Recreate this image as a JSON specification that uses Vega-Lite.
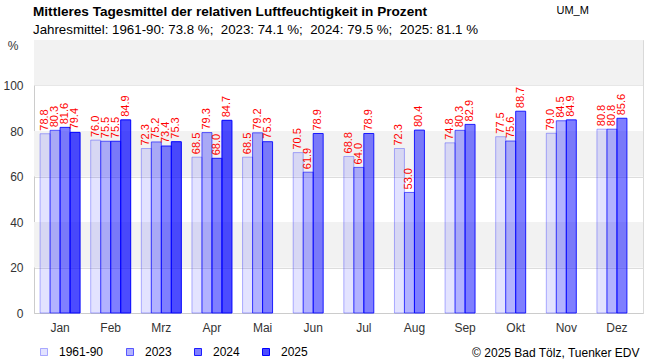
{
  "$schema": "https://vega.github.io/schema/vega-lite/v6.json",
  "width": 609,
  "height": 273,
  "autosize": {"type": "none"},
  "padding": {"left": 34, "top": 40, "right": 7, "bottom": 47},
  "background": "white",
  "title": {
    "text": "Mittleres Tagesmittel der relativen Luftfeuchtigkeit in Prozent",
    "subtitle": "Jahresmittel: 1961-90: 73.8 %;\u00a0 2023: 74.1 %;\u00a0 2024: 79.5 %;\u00a0 2025: 81.1 %",
    "anchor": "start",
    "frame": "group",
    "offset": -32,
    "dx": -1,
    "font": "Liberation Sans",
    "fontSize": 13.6,
    "fontWeight": "bold",
    "color": "#000000",
    "subtitleFont": "Liberation Sans",
    "subtitleFontSize": 13.3,
    "subtitleColor": "#000000",
    "subtitlePadding": 4
  },
  "config": {
    "view": {"stroke": "#d9d9d9"},
    "font": "Liberation Sans"
  },
  "datasets": {
    "bands": [
      {"lo": 20, "hi": 40},
      {"lo": 60, "hi": 80},
      {"lo": 100, "hi": 120}
    ],
    "hum": [
      {"month": "Jan", "series": "1961-90", "value": 78.8},
      {"month": "Jan", "series": "2023", "value": 80.3},
      {"month": "Jan", "series": "2024", "value": 81.6},
      {"month": "Jan", "series": "2025", "value": 79.4},
      {"month": "Feb", "series": "1961-90", "value": 76.0},
      {"month": "Feb", "series": "2023", "value": 75.5},
      {"month": "Feb", "series": "2024", "value": 75.5},
      {"month": "Feb", "series": "2025", "value": 84.9},
      {"month": "Mrz", "series": "1961-90", "value": 72.3},
      {"month": "Mrz", "series": "2023", "value": 75.2},
      {"month": "Mrz", "series": "2024", "value": 73.4},
      {"month": "Mrz", "series": "2025", "value": 75.3},
      {"month": "Apr", "series": "1961-90", "value": 68.5},
      {"month": "Apr", "series": "2023", "value": 79.3},
      {"month": "Apr", "series": "2024", "value": 68.0},
      {"month": "Apr", "series": "2025", "value": 84.7},
      {"month": "Mai", "series": "1961-90", "value": 68.5},
      {"month": "Mai", "series": "2023", "value": 79.2},
      {"month": "Mai", "series": "2024", "value": 75.3},
      {"month": "Jun", "series": "1961-90", "value": 70.5},
      {"month": "Jun", "series": "2023", "value": 61.9},
      {"month": "Jun", "series": "2024", "value": 78.9},
      {"month": "Jul", "series": "1961-90", "value": 68.8},
      {"month": "Jul", "series": "2023", "value": 64.0},
      {"month": "Jul", "series": "2024", "value": 78.9},
      {"month": "Aug", "series": "1961-90", "value": 72.3},
      {"month": "Aug", "series": "2023", "value": 53.0},
      {"month": "Aug", "series": "2024", "value": 80.4},
      {"month": "Sep", "series": "1961-90", "value": 74.8},
      {"month": "Sep", "series": "2023", "value": 80.3},
      {"month": "Sep", "series": "2024", "value": 82.9},
      {"month": "Okt", "series": "1961-90", "value": 77.5},
      {"month": "Okt", "series": "2023", "value": 75.6},
      {"month": "Okt", "series": "2024", "value": 88.7},
      {"month": "Nov", "series": "1961-90", "value": 79.0},
      {"month": "Nov", "series": "2023", "value": 84.5},
      {"month": "Nov", "series": "2024", "value": 84.9},
      {"month": "Dez", "series": "1961-90", "value": 80.8},
      {"month": "Dez", "series": "2023", "value": 80.8},
      {"month": "Dez", "series": "2024", "value": 85.6}
    ]
  },
  "layer": [
    {
      "data": {"name": "bands"},
      "mark": {"type": "rect", "color": "#f2f2f2"},
      "encoding": {
        "y": {"field": "lo", "type": "quantitative", "scale": {"domain": [0, 120]}},
        "y2": {"field": "hi"}
      }
    },
    {
      "data": {"name": "hum"},
      "mark": {"type": "bar", "strokeWidth": 1},
      "encoding": {
        "x": {
          "field": "month",
          "type": "nominal",
          "sort": ["Jan", "Feb", "Mrz", "Apr", "Mai", "Jun", "Jul", "Aug", "Sep", "Okt", "Nov", "Dez"],
          "scale": {"paddingInner": 0.21, "paddingOuter": 0.12},
          "axis": {
            "title": "© 2025 Bad Tölz, Tuenker EDV",
            "titleX": 605,
            "titleY": 39,
            "titleAlign": "right",
            "titleAnchor": null,
            "titleBaseline": "middle",
            "titleFont": "Liberation Sans",
            "titleFontSize": 12,
            "titleFontWeight": "normal",
            "titleColor": "#000000",
            "labelAngle": 0,
            "labelFontSize": 12,
            "labelColor": "#333333",
            "labelPadding": 9,
            "ticks": false,
            "domainColor": "#cccccc",
            "grid": false
          }
        },
        "xOffset": {
          "field": "series",
          "type": "nominal",
          "sort": ["1961-90", "2023", "2024", "2025"],
          "scale": {"paddingInner": 0, "paddingOuter": 0}
        },
        "y": {
          "field": "value",
          "type": "quantitative",
          "scale": {"domain": [0, 120], "nice": false},
          "axis": {
            "values": [0, 20, 40, 60, 80, 100, 120],
            "labelExpr": "datum.value == 120 ? '%' : datum.label",
            "labelBaseline": {"condition": {"test": "datum.value == 120", "value": "top"}, "value": "middle"},
            "labelPadding": {"condition": {"test": "datum.value == 120", "value": 16}, "value": 11},
            "labelFontSize": 12,
            "labelColor": "#333333",
            "ticks": false,
            "domainColor": "#cccccc",
            "gridColor": "#dddddd",
            "title": "UM_M",
            "titleX": 522,
            "titleY": -30,
            "titleAngle": 0,
            "titleAlign": "left",
            "titleBaseline": "middle",
            "titleFont": "Liberation Sans",
            "titleFontSize": 11,
            "titleFontWeight": "normal",
            "titleColor": "#000000"
          }
        },
        "color": {
          "field": "series",
          "type": "nominal",
          "sort": ["1961-90", "2023", "2024", "2025"],
          "scale": {
            "domain": ["1961-90", "2023", "2024", "2025"],
            "range": ["rgba(0,0,255,0.11)", "rgba(0,0,255,0.3)", "rgba(0,0,255,0.5)", "rgba(0,0,255,0.7)"]
          },
          "legend": {
            "title": null,
            "orient": "none",
            "direction": "horizontal",
            "legendX": 4,
            "legendY": 306,
            "padding": 0,
            "symbolType": "square",
            "symbolSize": 49,
            "symbolStrokeColor": "#8888aa",
            "symbolStrokeWidth": 1,
            "symbolOpacity": 1,
            "labelFontSize": 12,
            "labelColor": "#000000",
            "labelOffset": 9,
            "columnPadding": 20
          }
        },
        "stroke": {
          "field": "series",
          "type": "nominal",
          "scale": {
            "domain": ["1961-90", "2023", "2024", "2025"],
            "range": ["rgba(0,0,255,0.3)", "rgba(0,0,255,0.6)", "rgba(0,0,255,0.85)", "rgba(0,0,255,1)"]
          },
          "legend": null
        }
      }
    },
    {
      "data": {"name": "hum"},
      "mark": {
        "type": "text",
        "angle": 270,
        "align": "left",
        "baseline": "middle",
        "dx": 3,
        "color": "#ff0000",
        "font": "Liberation Sans",
        "fontSize": 11
      },
      "encoding": {
        "x": {"field": "month", "type": "nominal", "sort": ["Jan", "Feb", "Mrz", "Apr", "Mai", "Jun", "Jul", "Aug", "Sep", "Okt", "Nov", "Dez"]},
        "xOffset": {"field": "series", "type": "nominal", "sort": ["1961-90", "2023", "2024", "2025"]},
        "y": {"field": "value", "type": "quantitative"},
        "text": {"field": "value", "type": "quantitative", "format": ".1f"}
      }
    }
  ]
}
